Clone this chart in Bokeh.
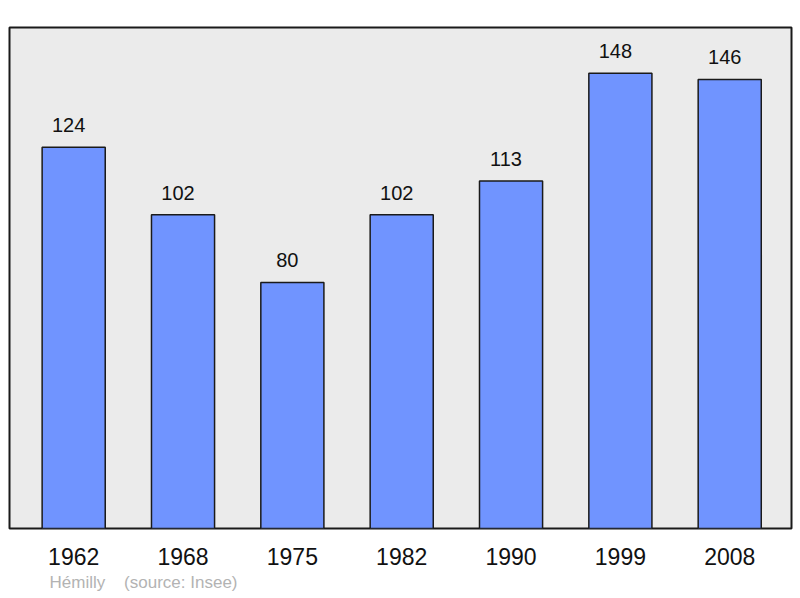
from bokeh.plotting import figure
from bokeh.models import Range1d, FixedTicker, Title, ColumnDataSource
from bokeh.core.properties import value
from bokeh.embed import file_html
from bokeh.resources import INLINE

years = ["1962", "1968", "1975", "1982", "1990", "1999", "2008"]
population = [124, 102, 80, 102, 113, 148, 146]
commune = "Hémilly"
source_note = "(source: Insee)"

xs = list(range(len(years)))
src = ColumnDataSource(dict(x=xs, top=population, lab=[str(v) for v in population]))

p = figure(width=800, height=598, output_backend="svg", toolbar_location=None,
           x_range=Range1d(-0.587, 6.565), y_range=Range1d(0, 162.9),
           min_border_left=9, min_border_right=9, min_border_top=27, min_border_bottom=70)
p.background_fill_color = "#ebebeb"
p.border_fill_color = "white"
p.outline_line_color = "#1a1a1a"
p.outline_line_width = 2
p.xgrid.visible = False
p.ygrid.visible = False
p.yaxis.visible = False

p.vbar(x="x", top="top", bottom=0, width=0.577, source=src,
       fill_color="#7094ff", line_color="#1a1a1a", line_width=1.5)
p.text(x="x", y="top", text="lab", source=src, x_offset=-5, y_offset=-22,
       text_align="center", text_baseline="middle",
       text_font=value("Liberation Sans"), text_font_size="20px", text_color="#111111")

ax = p.xaxis[0]
ax.ticker = FixedTicker(ticks=xs)
ax.major_label_overrides = {i: y for i, y in enumerate(years)}
ax.axis_line_color = None
ax.major_tick_line_color = None
ax.minor_tick_line_color = None
ax.major_label_text_font = "Liberation Sans"
ax.major_label_text_font_size = "23px"
ax.major_label_text_color = "#111111"
ax.major_label_standoff = 13

note = commune + "\u00a0" * 4 + source_note
p.add_layout(Title(text=note, align="left", offset=40, standoff=6,
                   text_font="Liberation Sans", text_font_size="17px",
                   text_font_style="normal", text_color="#b3b3b3"), "below")

open("out.html", "w").write(file_html(p, INLINE))
